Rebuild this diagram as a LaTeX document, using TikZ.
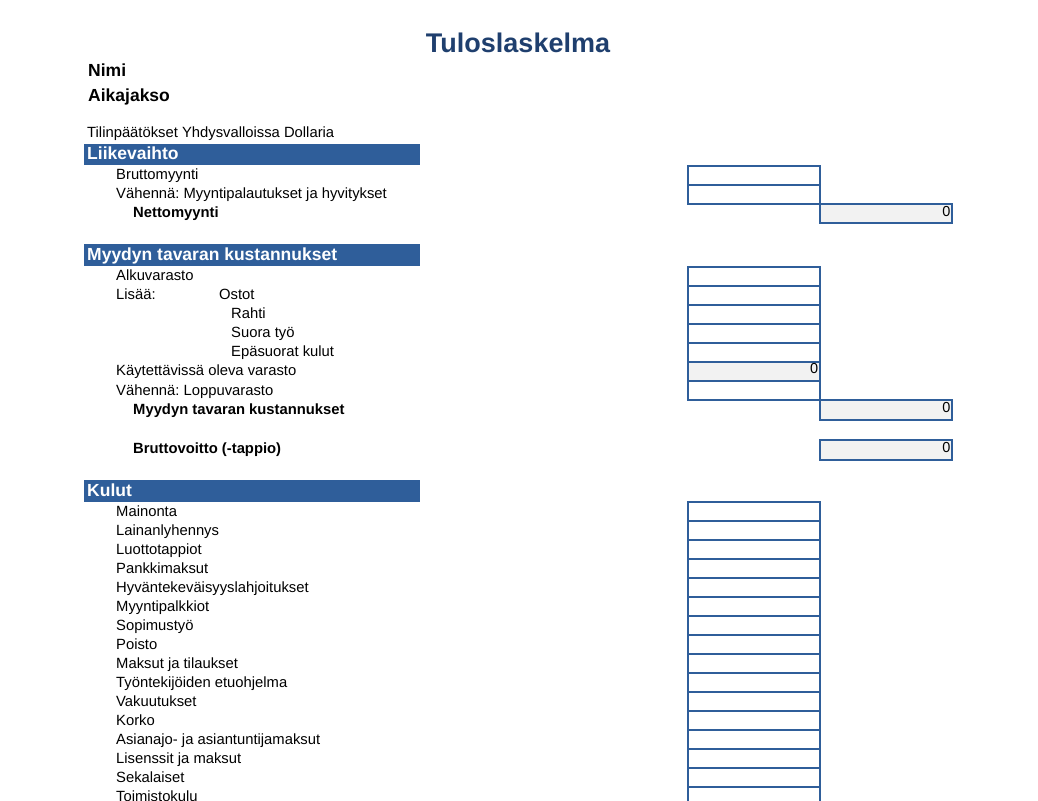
\documentclass[tikz,border=0pt]{standalone}
\usepackage{fontspec}
\setmainfont{Liberation Sans}
\frenchspacing
\begin{document}
\begin{tikzpicture}[x=1pt,y=-1pt,
  txt/.style={anchor=west,inner sep=0pt,text height=10.5pt,text depth=3pt,font=\fontsize{14.8}{15}\selectfont},
  btxt/.style={txt,font=\fontsize{14.8}{15}\selectfont\bfseries},
  htxt/.style={anchor=west,inner sep=0pt,text height=12.5pt,text depth=3.5pt,text=white,font=\fontsize{17.5}{18}\selectfont\bfseries},
  zero/.style={anchor=east,inner sep=1.5pt,font=\fontsize{14.5}{15}\selectfont},
  cell/.style={draw=hblue,line width=1.1pt},
  tot/.style={draw=hblue,line width=1.1pt,fill=gray!10}]
\definecolor{hblue}{HTML}{2F5E9A}
\definecolor{tblue}{HTML}{1F3F6E}
\useasboundingbox (0,0) rectangle (1038,800);
\node[anchor=center,text=tblue,font=\fontsize{27}{28}\selectfont\bfseries] (title) at (518,43) {Tuloslaskelma};
\node[htxt,text=black] (nimi) at (88,72) {Nimi};
\node[htxt,text=black] (aika) at (88,97) {Aikajakso};
\node[txt] (til) at (87,134) {Tilinpäätökset Yhdysvalloissa Dollaria};
% headers
\fill[hblue] (84,144) rectangle (420,165);
\node[htxt] (h1) at (87,155) {Liikevaihto};
\fill[hblue] (84,244) rectangle (420,266);
\node[htxt] (h2) at (87,256) {Myydyn tavaran kustannukset};
\fill[hblue] (84,480) rectangle (420,502);
\node[htxt] (h3) at (87,492) {Kulut};
% section 1
\node[txt] (a1) at (116,176) {Bruttomyynti};
\node[txt] (a2) at (116,195) {Vähennä: Myyntipalautukset ja hyvitykset};
\node[btxt] (a3) at (133,214) {Nettomyynti};
\draw[cell] (688,166) rectangle (820,185);
\draw[cell] (688,185) rectangle (820,204);
\draw[tot] (820,204) rectangle (952,223);
\node[zero] (z1) at (952,212) {0};
% section 2
\node[txt] (b1) at (116,277) {Alkuvarasto};
\node[txt] (b2) at (116,296) {Lisää:};
\node[txt] (b2b) at (219,296) {Ostot};
\node[txt] (b3) at (231,315) {Rahti};
\node[txt] (b4) at (231,334) {Suora työ};
\node[txt] (b5) at (231,353) {Epäsuorat kulut};
\node[txt] (b6) at (116,372) {Käytettävissä oleva varasto};
\node[txt] (b7) at (116,392) {Vähennä: Loppuvarasto};
\node[btxt] (b8) at (133,411) {Myydyn tavaran kustannukset};
\node[btxt] (b9) at (133,450) {Bruttovoitto (-tappio)};
\foreach \y in {267,286,305,324,343} \draw[cell] (688,\y) rectangle (820,\y+19);
\draw[tot] (688,362) rectangle (820,381);
\node[zero] (z2) at (820,369) {0};
\draw[cell] (688,381) rectangle (820,400);
\draw[tot] (820,400) rectangle (952,420);
\node[zero] (z3) at (952,408) {0};
\draw[tot] (820,440) rectangle (952,460);
\node[zero] (z4) at (952,448) {0};
% section 3
\foreach \t [count=\i from 0] in {Mainonta,Lainanlyhennys,Luottotappiot,Pankkimaksut,Hyväntekeväisyyslahjoitukset,Myyntipalkkiot,Sopimustyö,Poisto,Maksut ja tilaukset,Työntekijöiden etuohjelma,Vakuutukset,Korko,Asianajo- ja asiantuntijamaksut,Lisenssit ja maksut,Sekalaiset,Toimistokulu}{
  \node[txt] (k\i) at (116,513+19*\i) {\t};
  \draw[cell] (688,502+19*\i) rectangle (820,521+19*\i);
}
\end{tikzpicture}
\end{document}
